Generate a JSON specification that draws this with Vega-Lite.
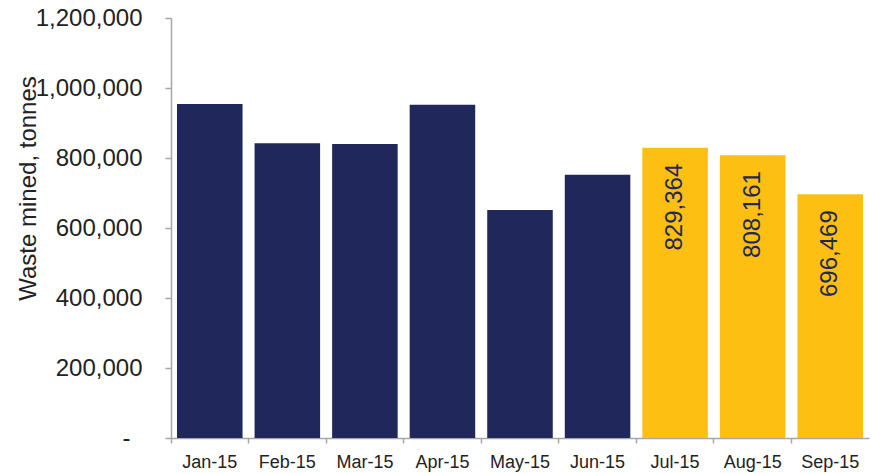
{
  "$schema": "https://vega.github.io/schema/vega-lite/v6.json",
  "autosize": "none",
  "width": 698,
  "height": 420,
  "padding": {"left": 171, "top": 18, "right": 7, "bottom": 35},
  "background": "white",
  "config": {
    "view": {"stroke": null},
    "font": "Liberation Sans",
    "axis": {"grid": false}
  },
  "data": {
    "values": [
      {"month": "Jan-15", "waste": 954000, "type": "actual"},
      {"month": "Feb-15", "waste": 842000, "type": "actual"},
      {"month": "Mar-15", "waste": 840000, "type": "actual"},
      {"month": "Apr-15", "waste": 952000, "type": "actual"},
      {"month": "May-15", "waste": 651500, "type": "actual"},
      {"month": "Jun-15", "waste": 752500, "type": "actual"},
      {"month": "Jul-15", "waste": 829364, "type": "forecast"},
      {"month": "Aug-15", "waste": 808161, "type": "forecast"},
      {"month": "Sep-15", "waste": 696469, "type": "forecast"}
    ]
  },
  "encoding": {
    "x": {
      "field": "month",
      "type": "nominal",
      "sort": null,
      "scale": {"paddingInner": 0, "paddingOuter": 0},
      "axis": {
        "title": null,
        "labelAngle": 0,
        "labelFont": "Liberation Sans",
        "labelFontSize": 18,
        "labelColor": "#222222",
        "labelPadding": 10,
        "domainColor": "#a6a6a6",
        "domainWidth": 1.5,
        "tickColor": "#a6a6a6",
        "tickWidth": 1.5,
        "tickSize": 5,
        "bandPosition": 0
      }
    },
    "y": {
      "field": "waste",
      "type": "quantitative",
      "scale": {"domain": [0, 1200000], "nice": false},
      "axis": {
        "title": "Waste mined, tonnes",
        "titleFont": "Liberation Sans",
        "titleFontSize": 24,
        "titleFontWeight": "normal",
        "titleColor": "#222222",
        "titleAngle": 270,
        "titleBaseline": "alphabetic",
        "titleX": -136,
        "titleY": 170,
        "titleAlign": "center",
        "values": [0, 200000, 400000, 600000, 800000, 1000000, 1200000],
        "labelExpr": "datum.value == 0 ? '-' : format(datum.value, ',')",
        "labelFont": "Liberation Sans",
        "labelFontSize": 24,
        "labelColor": "#222222",
        "labelPadding": {"condition": {"test": "datum.value == 0", "value": 35}, "value": 23},
        "domainColor": "#a6a6a6",
        "domainWidth": 1.5,
        "tickColor": "#a6a6a6",
        "tickWidth": 1.5,
        "tickSize": 6
      }
    }
  },
  "layer": [
    {
      "mark": {"type": "bar", "width": {"band": 0.845}},
      "encoding": {
        "color": {
          "field": "type",
          "type": "nominal",
          "scale": {"domain": ["actual", "forecast"], "range": ["#1f275b", "#fcbf12"]},
          "legend": null
        }
      }
    },
    {
      "transform": [{"filter": "datum.type == 'forecast'"}],
      "mark": {
        "type": "text",
        "angle": 270,
        "align": "right",
        "baseline": "middle",
        "dx": -16,
        "fontSize": 24,
        "font": "Liberation Sans",
        "color": "#1f275b"
      },
      "encoding": {
        "text": {"field": "waste", "type": "quantitative", "format": ","}
      }
    }
  ]
}
